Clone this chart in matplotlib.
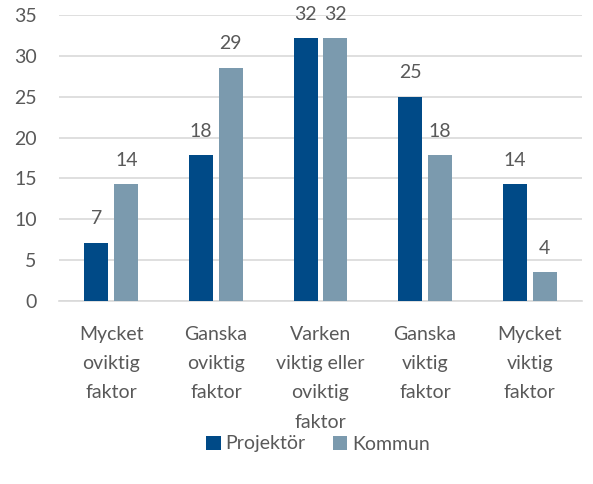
import matplotlib
matplotlib.use("Agg")
import matplotlib.pyplot as plt
import numpy as np

categories = ["Mycket\noviktig\nfaktor", "Ganska\noviktig\nfaktor",
              "Varken\nviktig eller\noviktig\nfaktor", "Ganska\nviktig\nfaktor",
              "Mycket\nviktig\nfaktor"]
projektor = [7.14, 17.86, 32.14, 25.0, 14.29]
kommun = [14.29, 28.57, 32.14, 17.86, 3.57]
series_names = ["Projektör", "Kommun"]
colors = ["#004A87", "#7B9AAE"]
yticks = [0, 5, 10, 15, 20, 25, 30, 35]

plt.rcParams['font.family'] = ['Lato', 'DejaVu Sans']
text_color = "#595959"
fs = 14

fig = plt.figure(figsize=(5.93, 4.84), dpi=100)
ax = fig.add_axes([59/593, 1-301/484, 523/593, 286/484])

x = np.arange(len(categories))
w = 0.23
off = 0.143
b1 = ax.bar(x - off, projektor, w, color=colors[0], label=series_names[0], zorder=3)
b2 = ax.bar(x + off, kommun, w, color=colors[1], label=series_names[1], zorder=3)

for bars, vals in ((b1, projektor), (b2, kommun)):
    for rect, v in zip(bars, vals):
        ax.annotate(f"{v:.0f}", (rect.get_x() + rect.get_width()/2, v),
                    xytext=(0, 11), textcoords="offset points",
                    ha="center", va="bottom", fontsize=fs, color=text_color)

ax.set_xlim(-0.5, len(categories) - 0.5)
ax.set_ylim(0, 35)
ax.set_yticks(yticks)
ax.set_yticklabels([str(t) for t in yticks], fontsize=fs, color=text_color)
ax.set_xticks(x)
ax.set_xticklabels(categories, fontsize=fs, color=text_color, linespacing=1.87)
ax.tick_params(axis='both', length=0)
ax.tick_params(axis='y', pad=16)
ax.tick_params(axis='x', pad=18)
ax.yaxis.grid(True, color="#D9D9D9", linewidth=1.2, zorder=0)
for s in ["top", "right", "left"]:
    ax.spines[s].set_visible(False)
ax.spines["bottom"].set_color("#D9D9D9")
ax.spines["bottom"].set_linewidth(1.2)

leg = fig.legend(handles=[b1, b2], labels=series_names, loc="center",
                 bbox_to_anchor=(318/593, 1-444/484), ncol=2, frameon=False,
                 fontsize=fs, handlelength=0.75, handleheight=0.75,
                 handletextpad=0.25, columnspacing=1.4)
for t in leg.get_texts():
    t.set_color(text_color)

fig.savefig("out.png", dpi=100)
